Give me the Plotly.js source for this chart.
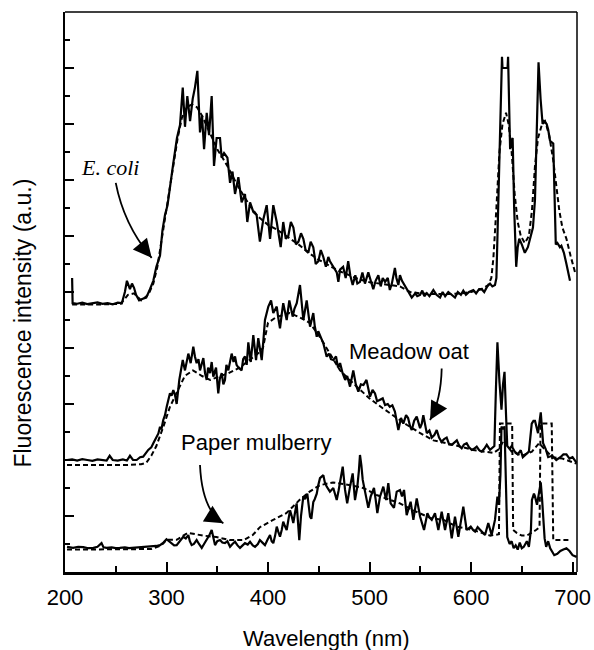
<!DOCTYPE html>
<html>
<head>
<meta charset="utf-8">
<script src="https://cdn.plot.ly/plotly-3.0.1.min.js"></script>
<style>html,body{margin:0;padding:0;background:#fff;}#chart{width:594px;height:650px;}</style>
</head>
<body>
<div id="chart"></div>
<script>
// ---- Data (wavelength nm, intensity a.u. with vertical offsets) ----
const xTickVals = [200, 300, 400, 500, 600, 700];
const xTickText = ["200", "300", "400", "500", "600", "700"];

const ecoliSolid = [[207,10.5],[207.5,9.6],[212,9.58],[217,9.62],[222,9.57],[227,9.6],[232,9.63],[237,9.58],[242,9.6],[247,9.56],[252,9.62],[256,9.6],
[259,10.0],[261,10.4],[264,10.1],[266,10.3],[268,10.15],[270,9.9],[273,9.7],[276,9.75],[280,9.8],[283.7,10.1],[287,10.4],[290,10.9],[293.6,11.3],[296,12.2],[298.5,12.75],[301,13.1],[303.4,13.8],[306.7,14.6],[310.3,15.5],[313.3,15.96],[316,17.3],[318.2,15.9],[320.5,17.0],[323.2,16.1],[325.8,16.9],[328,17.3],[330.4,17.9],[333,15.7],[335,16.3],[337,15.1],[339.6,16.4],[341.9,15.6],[344.5,17.0],[346.8,14.5],[349.4,15.5],[352.7,15.5],[354.3,14.8],[356.7,14.96],[360,14.8],[362.6,13.9],[365,14.3],[367.5,13.5],[370.8,14.1],[374,13.2],[377.3,13.5],[379.6,12.5],[382.3,13.2],[385.5,12.86],[388.8,12.75],[392,11.8],[395.4,12.6],[398.7,13.1],[402,11.9],[405.2,13.1],[408.6,12.5],[412.5,11.6],[415,12.5],[417.5,11.9],[420,12.0],[422.5,12.5],[425,12.3],[427.5,11.7],[430,11.8],[432.5,12.1],[434.8,11.9],[437,11.5],[439.7,11.4],[442,11.8],[444.6,11.6],[447,11.0],[449.6,11.1],[452,11.5],[454.5,11.25],[457,10.9],[459.4,11.25],[461,11.1],[464.3,10.9],[467.7,10.7],[469.3,10.36],[471,10.8],[474,10.9],[476.5,10.5],[479,11.1],[481,10.6],[483.4,10.25],[486,10.6],[488,10.3],[490.6,10.36],[493,10.7],[495.5,10.3],[498.8,10.7],[501,10.4],[503.7,10.1],[506,10.4],[508.7,10.6],[511,10.2],[513,10.5],[515.3,10.36],[518,10.5],[520,10.07],[522,10.3],[525,10.86],[526.5,10.5],[528.4,10.25],[530,10.6],[532,10.4],[535,10.2],[538,10.0],[541.6,9.8],[545,9.95],[547,9.85],[549.8,9.9],[552,10.05],[554,9.85],[556.4,9.96],[559,9.85],[562.9,10.07],[566,9.9],[569.5,9.8],[572,10.0],[574.5,9.85],[577.6,10.0],[581,9.9],[584.2,9.8],[587,10.0],[590,9.9],[592.4,10.05],[595,9.9],[598,10.0],[602.3,10.07],[605,9.95],[608,10.1],[610.5,10.1],[613,10.0],[616,10.2],[618.7,10.3],[621,10.2],[623.6,10.25],[625,10.5],[627,13.3],[629,16.5],[630.5,18.4],[631,18.0],[636,18.0],[636.5,18.4],[638.5,15.1],[639.5,15.4],[641,15.5],[642.5,13.0],[644.5,10.9],[646,11.6],[647.5,11.9],[650,11.7],[653,11.4],[656,11.6],[658,11.86],[661,12.3],[663,13.3],[665,16.0],[666.5,18.2],[668.5,16.9],[670.5,16.0],[672,16.1],[674.5,16.0],[676,15.8],[677.8,15.4],[681,15.3],[683.5,11.7],[685,11.75],[687.6,11.6],[689,11.65],[691.5,11.4],[694,11.0],[697.5,10.4]];

const ecoliDashed = [[207,9.55],[230,9.55],[255,9.58],[262,9.9],[268,9.95],[275,9.7],[282,9.9],[287,10.3],[291,10.9],[295,11.8],[299,12.8],[303,13.7],[307,14.6],[311,15.5],[315,16.2],[320,16.6],[325,16.7],[330,16.6],[335,16.3],[340,15.9],[345,15.5],[350,15.1],[355,14.8],[360,14.5],[370,13.8],[380,13.2],[390,12.7],[400,12.4],[410,12.2],[420,11.95],[430,11.7],[440,11.4],[450,11.15],[460,10.95],[470,10.75],[480,10.6],[490,10.45],[500,10.35],[510,10.3],[520,10.25],[530,10.2],[540,10.0],[550,9.95],[560,9.93],[570,9.92],[580,9.93],[590,9.95],[600,10.0],[610,10.1],[617,10.25],[620,10.5],[622,11.2],[625,13.0],[628,15.0],[631,16.0],[634.5,16.4],[637,16.0],[640,15.0],[643,13.5],[646,12.5],[649,12.0],[653,11.75],[657,12.0],[660,12.9],[663,14.5],[666,15.5],[670,16.0],[673,16.1],[677,15.6],[681,14.7],[684,13.8],[687,12.9],[690,12.3],[694,11.9],[698,11.3],[702.5,10.7]];

const oatSolid = [[202,4.0],[207,4.02],[212,3.98],[217,4.03],[222,4.0],[227,3.97],[232,4.02],[237,4.0],[241,3.98],[244,4.15],[247,4.0],[252,3.98],[257,4.02],[261,3.98],[264,4.15],[267,4.0],[270.6,4.0],[274,4.1],[277,4.12],[282,4.36],[285,4.45],[287,4.6],[290.3,4.83],[292,4.95],[293.6,5.19],[295,5.1],[296.8,5.43],[298.5,5.6],[300.2,5.9],[302,6.2],[303.4,6.38],[305,6.3],[306.7,6.5],[308.5,6.3],[310,6.0],[312.6,6.86],[314,7.2],[316,7.57],[318.2,7.2],[320,7.6],[321.5,7.8],[323.8,7.46],[326.4,8.05],[328,7.7],[329.7,7.46],[331.5,7.6],[333,7.2],[336.3,7.64],[338,7.1],[339.6,6.86],[341,7.3],[342.9,7.1],[344.5,7.5],[346.1,6.98],[348.8,7.3],[351,6.38],[352.5,6.9],[354.4,7.1],[356,6.7],[357.6,6.86],[359,7.4],[360.9,7.2],[364.2,7.8],[366,7.5],[367.5,7.7],[369,7.4],[370.8,7.3],[374,7.2],[375.5,7.6],[377.3,7.7],[379,7.4],[380.6,8.2],[383,7.5],[385.5,8.46],[388.2,7.57],[390.4,8.35],[392,8.0],[393.8,7.57],[395.5,8.3],[397,9.0],[400.3,9.48],[403,9.7],[405.2,9.25],[408.6,9.48],[410,9.1],[411.8,8.7],[413.5,9.2],[415,9.6],[418.4,9.0],[421,9.7],[424.3,9.12],[426,9.4],[428.3,9.6],[431.5,10.25],[434.8,9.0],[436.5,9.4],[438.1,9.7],[441.4,8.76],[443,9.0],[444.6,9.25],[446,8.8],[448,8.4],[449.5,8.6],[451.2,8.46],[454.5,8.17],[457.8,7.69],[460,7.8],[462,7.6],[464.3,7.57],[467,7.7],[469,7.3],[471,7.46],[473.5,7.1],[476,6.86],[478,7.0],[480.8,6.62],[482.5,6.9],[484,7.2],[486.5,6.7],[489,6.44],[491.5,6.7],[494,6.68],[497,6.86],[498.8,6.5],[500.5,6.26],[503,6.5],[505.4,6.38],[507.5,6.1],[510.3,6.14],[513,6.2],[515.3,5.96],[518,6.0],[520,5.9],[522.5,5.95],[525,5.73],[528.4,5.07],[531,5.5],[533.3,5.3],[536,5.6],[538,5.5],[540,5.2],[541.6,5.07],[544,5.4],[546.5,5.55],[549.8,5.14],[551.5,5.3],[553,5.6],[556.4,4.96],[559,5.05],[561.3,4.8],[564,4.9],[566.2,5.07],[568.5,4.8],[571,4.65],[573.5,4.75],[576,4.8],[578.5,4.55],[581,4.54],[583.5,4.62],[586,4.7],[588.5,4.5],[590.8,4.42],[593,4.55],[595.7,4.6],[598,4.45],[600.7,4.36],[603,4.4],[605.6,4.48],[608,4.35],[610.5,4.3],[613,4.4],[615.5,4.54],[618.7,4.36],[622,4.48],[623,4.5],[624.5,6.5],[626,8.2],[628,6.8],[630,5.8],[631.5,6.7],[633,7.15],[634.5,5.6],[635.7,4.5],[638,4.4],[640,4.5],[643,4.3],[646,4.2],[649,4.35],[651,4.1],[654,4.2],[657,4.3],[659.8,5.3],[661.5,5.4],[663,5.4],[666,4.96],[668.7,5.7],[670,5.2],[671,4.6],[673.5,4.4],[676,4.1],[680,4.15],[684,4.0],[688,4.1],[691,4.2],[694,4.2],[697,4.05],[700,4.1],[704,3.9]];

const oatDashed = [[202,3.82],[230,3.82],[260,3.82],[275,3.85],[280,3.9],[285,4.15],[290,4.5],[297,5.2],[303.4,5.9],[310,6.4],[318,7.0],[326,7.2],[335,7.0],[343,6.86],[353,7.0],[361,7.1],[372,7.3],[382,7.57],[390,7.8],[395,8.0],[400,8.9],[408,9.1],[421,9.25],[431,9.1],[441,8.9],[451,8.4],[461,7.8],[471,7.2],[485,6.7],[500,6.2],[513,5.85],[523,5.6],[537,5.25],[550,4.96],[563,4.7],[583,4.54],[602,4.36],[622,4.25],[628,4.4],[632,4.7],[636,4.5],[640,4.3],[650,4.15],[660,4.3],[667,4.6],[672,4.4],[680,4.1],[690,4.05],[704,3.87]];

const mulberrySolid = [[202,0.9],[208,0.86],[213,0.9],[218,0.89],[223,0.85],[228,0.86],[232,0.9],[236,1.03],[238,0.88],[241,0.86],[246,0.88],[250,0.85],[254,0.86],[259,0.88],[263,0.85],[267,0.86],[272,0.88],[276,0.87],[280.5,0.89],[286,0.9],[290,0.93],[293.6,0.96],[297,1.05],[300,1.17],[302.5,1.1],[305,1.03],[307.5,0.95],[310,0.96],[313,1.1],[316.5,1.26],[319,1.2],[321.5,1.32],[323,1.1],[324.8,0.96],[327,1.0],[329.7,1.14],[332,1.0],[334.7,0.86],[337,1.0],[339.6,1.14],[342,1.3],[344.5,1.5],[346,1.2],[347.8,0.96],[350,1.1],[352.7,1.14],[355,1.05],[357.6,1.03],[360,1.1],[362.6,0.9],[365,1.0],[367.5,1.08],[370,0.95],[372.4,0.86],[375,0.95],[377.3,1.03],[380,0.98],[382.3,1.08],[385,0.95],[387.2,0.9],[390,1.0],[392,1.14],[394.5,1.05],[397,0.96],[399.5,1.15],[402,1.32],[403.6,1.1],[405.2,1.03],[407,1.3],[408.6,1.62],[410,1.45],[411.8,1.26],[413.5,1.5],[415,1.8],[416.5,1.65],[418.4,1.5],[420,1.85],[421.7,2.2],[423.3,2.0],[424.9,1.75],[426.5,2.1],[428.2,2.45],[429.5,1.8],[430.8,1.14],[432.5,2.0],[434.8,2.7],[436.5,2.6],[438.7,2.8],[440,2.4],[441.4,1.98],[442.7,1.9],[444.6,2.5],[446,2.6],[448,2.8],[449.5,3.1],[451.2,3.35],[454.5,3.46],[456,3.2],[457.8,3.05],[461,2.87],[464.3,3.0],[466,2.8],[467.7,2.57],[469.5,2.9],[471,3.23],[473.6,3.76],[475.9,2.93],[478,2.45],[480.8,3.05],[483.4,3.52],[485.7,2.57],[488,3.05],[489.5,3.6],[490.6,4.18],[492,3.8],[493.3,3.29],[495.6,2.87],[498.8,2.29],[501.1,2.69],[504.4,3.0],[506,2.6],[507.7,2.1],[510.3,2.69],[513.6,3.05],[516.3,2.57],[518.5,3.17],[520.8,2.45],[524.1,2.29],[526.8,2.87],[530,2.93],[532,2.7],[534,2.93],[536.6,2.03],[538.5,2.3],[540.5,2.51],[543.2,1.86],[546.5,2.63],[549.8,1.98],[553.7,1.5],[557,2.1],[559,1.95],[561.3,1.86],[564.5,2.1],[567.8,1.5],[571.1,2.15],[574.4,1.5],[577.6,2.1],[581,1.2],[584.2,1.98],[587.5,1.26],[590,1.8],[592.4,2.33],[595.7,1.5],[599.7,1.62],[602,1.5],[604,1.44],[606.5,1.6],[608.9,1.5],[611,1.4],[613.8,1.32],[617,1.75],[620.3,1.32],[623.6,1.86],[626,2.69],[627.5,2.4],[629,3.5],[630,5.2],[631.5,5.1],[633,5.2],[634.5,3.0],[635.7,1.25],[638,1.0],[640,1.1],[642,0.85],[644,0.95],[646,0.8],[648,1.05],[650,0.85],[652,0.9],[655,1.1],[657,0.9],[659,1.5],[660,2.57],[662,2.8],[663,2.7],[665,2.4],[667,2.9],[668.7,3.2],[670,2.6],[671,1.9],[672.5,1.2],[674,0.9],[676,1.1],[678,0.85],[680,0.7],[682,0.6],[685,0.65],[688,0.75],[691,0.8],[694,0.85],[697,0.75],[700,0.6],[704,0.54]];

const mulberryDashed = [[202,0.8],[230,0.8],[260,0.8],[285,0.82],[295,0.95],[300,1.15],[310,1.15],[321,1.4],[336,1.3],[349,1.25],[362,1.14],[376,1.14],[385,1.32],[392,1.6],[405,1.86],[418,2.1],[431,2.57],[441,2.87],[451,3.1],[464,3.2],[481,3.1],[494,3.0],[507,2.75],[520,2.57],[530,2.45],[543,2.2],[560,1.93],[573,1.86],[586,1.62],[602,1.5],[619,1.3],[627.5,1.35],[628.5,5.3],[640.5,5.3],[641.5,1.5],[645,1.4],[650,1.3],[655,1.3],[660,1.4],[664,1.5],[667.5,1.6],[668.5,5.3],[679.5,5.3],[681,1.14],[688,1.14],[696,1.14]];

// Label texts
const labelEcoli = "<i>E. coli</i>";
const labelOat = "Meadow oat";
const labelMulberry = "Paper mulberry";
const xTitle = "Wavelength (nm)";
const yTitle = "Fluorescence intensity (a.u.)";

// ---- build traces ----
function xs(a){return a.map(p=>p[0]);}
function ys(a){return a.map(p=>p[1]);}
const solidLine = {color:'#000', width:2.2};
const dashLine = {color:'#000', width:2, dash:'5px,3px'};
const traces = [
  {x:xs(ecoliDashed), y:ys(ecoliDashed), mode:'lines', line:dashLine},
  {x:xs(oatDashed), y:ys(oatDashed), mode:'lines', line:dashLine},
  {x:xs(mulberryDashed), y:ys(mulberryDashed), mode:'lines', line:dashLine},
  {x:xs(ecoliSolid), y:ys(ecoliSolid), mode:'lines', line:solidLine},
  {x:xs(oatSolid), y:ys(oatSolid), mode:'lines', line:solidLine},
  {x:xs(mulberrySolid), y:ys(mulberrySolid), mode:'lines', line:solidLine}
];

const font = {family:'Liberation Sans, Arial, sans-serif', size:22, color:'#000'};

const layout = {
  width:594, height:650,
  margin:{l:65, r:17, t:12, b:78},
  paper_bgcolor:'#fff', plot_bgcolor:'#fff',
  showlegend:false,
  font:font,
  xaxis:{range:[200,704.4], tickvals:xTickVals, ticktext:xTickText, ticks:'inside', ticklen:10, tickwidth:2, tickcolor:'#000',
    minor:{dtick:50, tick0:0, ticks:'inside', ticklen:6, tickwidth:2, tickcolor:'#000'},
    showline:true, linewidth:2.5, linecolor:'#000', mirror:false, showgrid:false, zeroline:false,
    tickfont:font, ticklabelstandoff:4, fixedrange:true},
  yaxis:{range:[0,20], dtick:2, tick0:0, ticks:'inside', ticklen:9, tickwidth:2, tickcolor:'#000',
    minor:{dtick:1, tick0:0, ticks:'inside', ticklen:5, tickwidth:2, tickcolor:'#000'},
    showticklabels:false, showline:true, linewidth:2.5, linecolor:'#000', mirror:false, showgrid:false, zeroline:false, fixedrange:true},
  shapes:[
    {type:'line', xref:'paper', yref:'paper', x0:0, x1:1, y0:1, y1:1, line:{color:'#000', width:1.5}},
    {type:'line', xref:'paper', yref:'paper', x0:1, x1:1, y0:0, y1:1, line:{color:'#000', width:1.5}},
    {type:'path', xref:'x', yref:'y', path:'M250,13.9 Q258.1,12.39 285.4,11.22', line:{color:'#000', width:1.8}},
    {type:'path', xref:'x', yref:'y', path:'M571.1,7.27 Q570.4,6.14 559.6,5.43', line:{color:'#000', width:1.8}},
    {type:'path', xref:'x', yref:'y', path:'M333,3.82 Q335,2.21 356,1.74', line:{color:'#000', width:1.8}}
  ],
  annotations:[
    {x:244.3, y:14.46, xref:'x', yref:'y', text:labelEcoli, showarrow:false, font:{family:'Liberation Serif, Times New Roman, serif', size:22, color:'#000'}},
    {x:538.9, y:7.89, xref:'x', yref:'y', text:labelOat, showarrow:false, font:font},
    {x:388.2, y:4.64, xref:'x', yref:'y', text:labelMulberry, showarrow:false, font:font},
    {x:285.4, y:11.22, xref:'x', yref:'y', text:'', showarrow:true, ax:-10, ay:-12, arrowhead:2, arrowsize:2.3, arrowwidth:1.6, arrowcolor:'#000'},
    {x:559.6, y:5.43, xref:'x', yref:'y', text:'', showarrow:true, ax:8, ay:-14, arrowhead:2, arrowsize:2.3, arrowwidth:1.6, arrowcolor:'#000'},
    {x:356, y:1.74, xref:'x', yref:'y', text:'', showarrow:true, ax:-13, ay:-8, arrowhead:2, arrowsize:2.3, arrowwidth:1.6, arrowcolor:'#000'},
    {x:0.51, y:-0.118, xref:'paper', yref:'paper', text:xTitle, showarrow:false, font:font, xanchor:'center', yanchor:'middle'},
    {x:-0.082, y:0.4437, xref:'paper', yref:'paper', text:yTitle, showarrow:false, font:{family:'Liberation Sans, Arial, sans-serif', size:23, color:'#000'}, textangle:-90, xanchor:'center', yanchor:'middle'}
  ]
};

Plotly.newPlot('chart', traces, layout, {displayModeBar:false, staticPlot:true});
</script>
</body>
</html>
